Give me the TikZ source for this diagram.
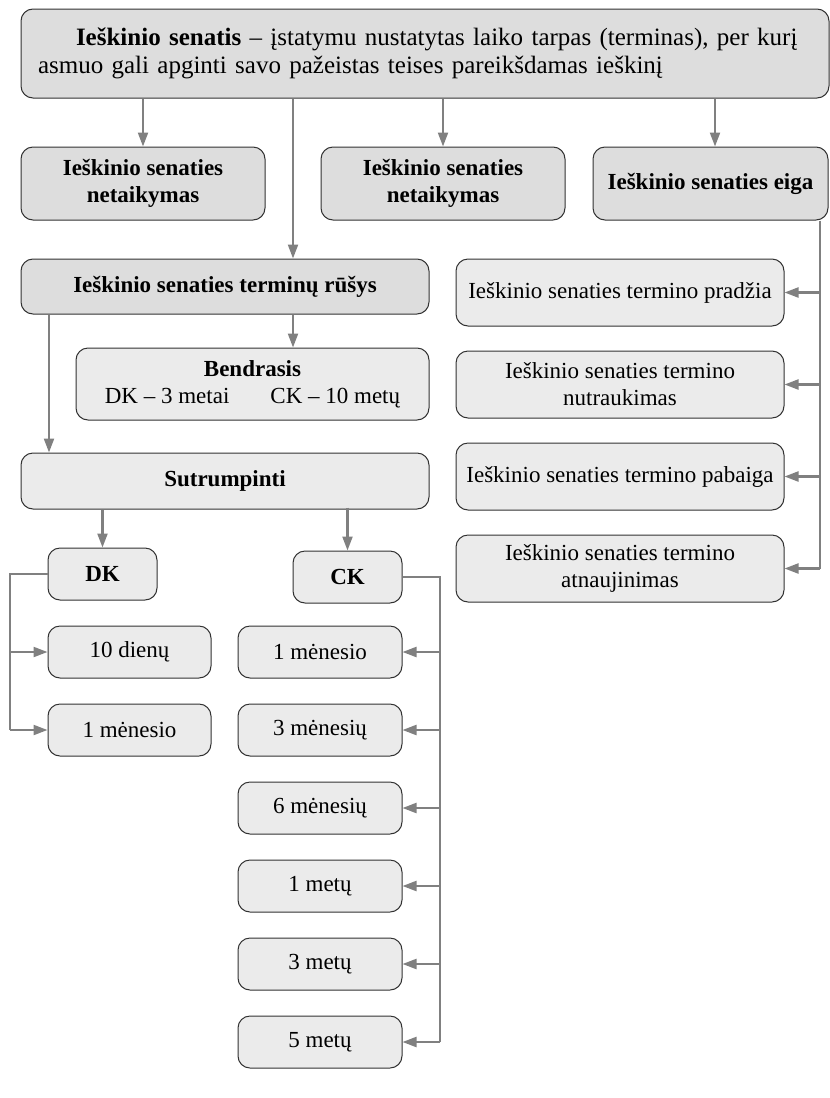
\documentclass[tikz,border=0pt]{standalone}
\usepackage{fontspec}
\setmainfont{Liberation Serif}
\usetikzlibrary{arrows.meta}

\definecolor{darkfill}{RGB}{221,221,221}
\definecolor{lightfill}{RGB}{235,235,235}
\definecolor{edge}{RGB}{50,50,50}
\definecolor{link}{RGB}{128,128,128}

\begin{document}
\begin{tikzpicture}[x=1pt,y=-1pt,
  box/.style={draw=edge, line width=1pt, rounded corners=12pt, inner sep=0pt,
              align=center, font=\fontsize{23}{27}\selectfont},
  darkbox/.style={box, fill=darkfill},
  lightbox/.style={box, fill=lightfill},
  link/.style={draw=link, line width=2.2pt},
  arrow/.style={link, -{Triangle[length=14pt,width=10pt]}}]

\useasboundingbox (0,0) rectangle (830,1098);

% definition box
\node[darkbox, minimum width=808, minimum height=89, text width=774, inner xsep=17pt,
      align=left, font=\fontsize{25}{28}\selectfont] (top) at (425,53.5)
  {\hspace*{38pt}\textbf{Ieškinio senatis} – įstatymu nustatytas laiko tarpas (terminas), per kurį\\
   asmuo gali apginti savo pažeistas teises pareikšdamas ieškinį};

% second row
\node[darkbox, minimum width=244, minimum height=73] (r1) at (143,183.5)
  {\textbf{Ieškinio senaties}\\\textbf{netaikymas}};
\node[darkbox, minimum width=244, minimum height=73] (r2) at (443,183.5)
  {\textbf{Ieškinio senaties}\\\textbf{netaikymas}};
\node[darkbox, minimum width=235, minimum height=73] (r3) at (710.5,183.5)
  {\textbf{Ieškinio senaties eiga}};

% kinds of terms
\node[darkbox, minimum width=408, minimum height=55] (kinds) at (225,286.5)
  {\textbf{Ieškinio senaties terminų rūšys}};
\node[lightbox, minimum width=353, minimum height=72] (general) at (252.5,384)
  {\textbf{Bendrasis}\\DK – 3 metai\hspace{41pt}CK – 10 metų};
\node[lightbox, minimum width=408, minimum height=56] (short) at (225,481)
  {\textbf{Sutrumpinti}};

\node[lightbox, minimum width=109, minimum height=52] (dk) at (102.5,574) {\textbf{DK}};
\node[lightbox, minimum width=109, minimum height=52] (ck) at (347.5,577) {\textbf{CK}};

% DK terms
\node[lightbox, minimum width=163, minimum height=52] (d1) at (129.5,652) {10 dienų};
\node[lightbox, minimum width=163, minimum height=52] (d2) at (129.5,730) {1 mėnesio};

% CK terms
\node[lightbox, minimum width=164, minimum height=52] (k1) at (320,652) {1 mėnesio};
\node[lightbox, minimum width=164, minimum height=52] (k2) at (320,730) {3 mėnesių};
\node[lightbox, minimum width=164, minimum height=52] (k3) at (320,808) {6 mėnesių};
\node[lightbox, minimum width=164, minimum height=52] (k4) at (320,886) {1 metų};
\node[lightbox, minimum width=164, minimum height=52] (k5) at (320,964) {3 metų};
\node[lightbox, minimum width=164, minimum height=52] (k6) at (320,1042) {5 metų};

% course of the limitation period
\node[lightbox, minimum width=328, minimum height=67] (e1) at (620,292.5)
  {Ieškinio senaties termino pradžia};
\node[lightbox, minimum width=328, minimum height=67] (e2) at (620,384.5)
  {Ieškinio senaties termino\\nutraukimas};
\node[lightbox, minimum width=328, minimum height=67] (e3) at (620,476.5)
  {Ieškinio senaties termino pabaiga};
\node[lightbox, minimum width=328, minimum height=67] (e4) at (620,568.5)
  {Ieškinio senaties termino\\atnaujinimas};

% bus positions
\coordinate (midbus) at (293,0);
\coordinate (leftbus) at (49,0);
\coordinate (dkbus) at (10,0);
\coordinate (ckbus) at (440,0);
\coordinate (rightbus) at (820,0);

% connectors from the definition
\draw[arrow] (top.south -| r1.north) -- (r1.north);
\draw[arrow] (top.south -| r2.north) -- (r2.north);
\draw[arrow] ([xshift=4.5pt]top.south -| r3.north) -- ([xshift=4.5pt]r3.north);
\draw[arrow] (top.south -| midbus) -- (kinds.north -| midbus);

% kinds
\draw[arrow] (kinds.south -| midbus) -- (general.north -| midbus);
\draw[arrow] (kinds.south -| leftbus) -- (short.north -| leftbus);
\draw[arrow] (short.south -| dk.north) -- (dk.north);
\draw[arrow] ([yshift=2pt]short.south -| ck.north) -- (ck.north);

% DK branch
\draw[link] (dk.west) -- (dk.west -| dkbus) -- (d2.west -| dkbus);
\draw[arrow] (d1.west -| dkbus) -- (d1.west);
\draw[arrow] (d2.west -| dkbus) -- (d2.west);

% CK branch
\draw[link] (ck.east) -- (ck.east -| ckbus) -- (k6.east -| ckbus);
\foreach \k in {k1,k2,k3,k4,k5,k6}
  \draw[arrow] (\k.east -| ckbus) -- (\k.east);

% course branch
\draw[link] (r3.south -| rightbus) -- (e4.east -| rightbus);
\foreach \e in {e1,e2,e3,e4}
  \draw[arrow] (\e.east -| rightbus) -- (\e.east);

\end{tikzpicture}
\end{document}
